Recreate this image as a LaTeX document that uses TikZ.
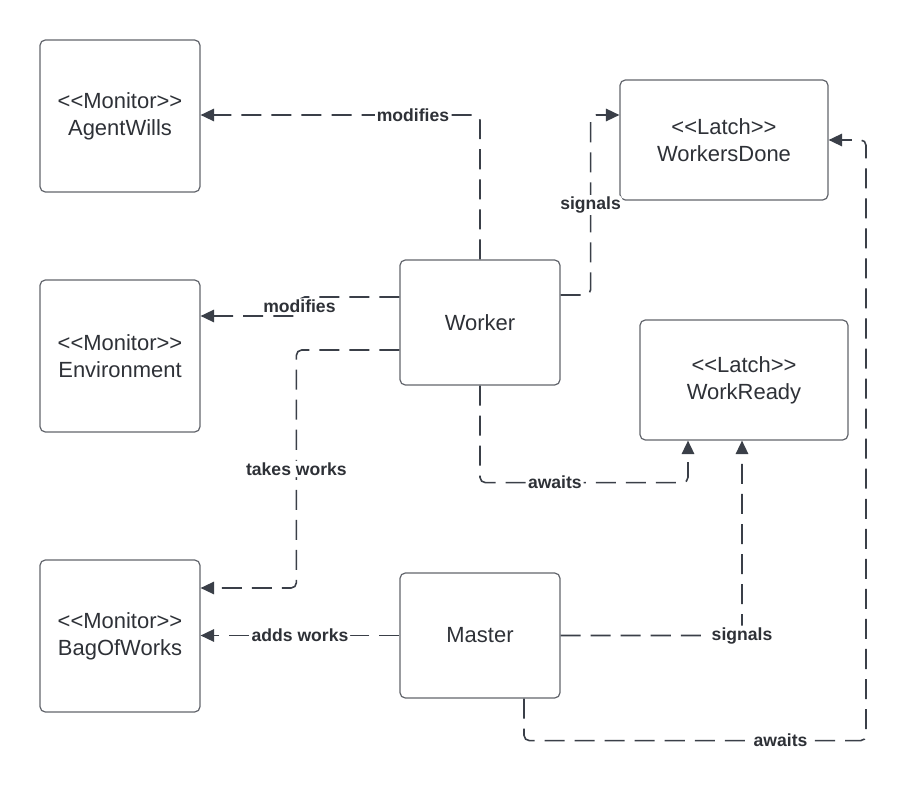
\documentclass[tikz,border=0pt]{standalone}
\usepackage{fontspec}
\setmainfont{Liberation Sans}
\usepackage{tikz}
\usetikzlibrary{positioning}
\usetikzlibrary{calc}
\usetikzlibrary{arrows.meta}
\definecolor{linecol}{HTML}{3A3F48}
\definecolor{boxcol}{HTML}{62656C}
\definecolor{txtcol}{HTML}{2E3137}
\tikzset{%
  box/.style = {rectangle,draw=boxcol,line width=0.7pt,rounded corners=3pt,
        align=center,text=txtcol,font=\fontsize{12.5}{15.5}\selectfont},
  mon/.style = {box,minimum width=3.2cm,minimum height=3.04cm},
  act/.style = {box,minimum width=3.2cm,minimum height=2.5cm},
  latch/.style = {box,minimum width=4.16cm,minimum height=2.4cm},
  dep/.style = {-{Triangle[length=0.27cm,width=0.25cm]},linecol,line width=0.9pt,
        dash pattern=on 11.4pt off 5.7pt,rounded corners=3pt},
  lbl/.style = {fill=white,inner sep=1pt,text=txtcol,
        font=\fontsize{10}{12}\selectfont\bfseries}
}
\begin{document}
\begin{tikzpicture}[x=0.02cm,y=-0.02cm]
    \useasboundingbox (0,0) rectangle (908,790);
    \node[mon] (aw) at (120,116) {<{}<Monitor>{}>\\AgentWills};
    \node[mon] (env) at (120,356) {<{}<Monitor>{}>\\Environment};
    \node[mon] (bag) at (120,636) {<{}<Monitor>{}>\\BagOfWorks};
    \node[act] (wk) at (480,322.5) {Worker};
    \node[act] (ms) at (480,635.5) {Master};
    \node[latch] (wd) at (724,140) {<{}<Latch>{}>\\WorkersDone};
    \node[latch] (wr) at (744,380) {<{}<Latch>{}>\\WorkReady};

    \draw[dep] (wk.north) |- node[lbl,pos=0.62] {modifies} ($(aw.east)+(0,-1)$);
    \draw[dep] ($(wk.west)+(0,-25.5)$) -- ++(-100,0) |- node[lbl,pos=0.25] {modifies} ($(env.east)+(0,-40)$);
    \draw[dep] ($(wk.west)+(0,27.5)$) -- ++(-103,0) |- node[lbl,pos=0.25] {takes works} ($(bag.east)+(0,-48)$);
    \draw[dep] ($(wk.east)+(0,-27.5)$) -- ++(30,0) |- node[lbl,pos=0.25] {signals} ($(wd.west)+(0,-25)$);
    \draw[dep] (wk.south) -- ++(0,97) -| node[lbl,pos=0.18] {awaits} ($(wr.south)+(-56,0)$);
    \draw[dep] (ms.west) -- node[lbl] {adds works} (ms.west -| bag.east);
    \draw[dep] (ms.east) -| node[lbl,pos=0.5] {signals} ($(wr.south)+(-2,0)$);
    \draw[dep] ($(ms.south)+(44,0)$) -- ++(0,42) -- node[lbl,pos=0.75] {awaits} ++(342,0) |- (wd.east);
\end{tikzpicture}
\end{document}
